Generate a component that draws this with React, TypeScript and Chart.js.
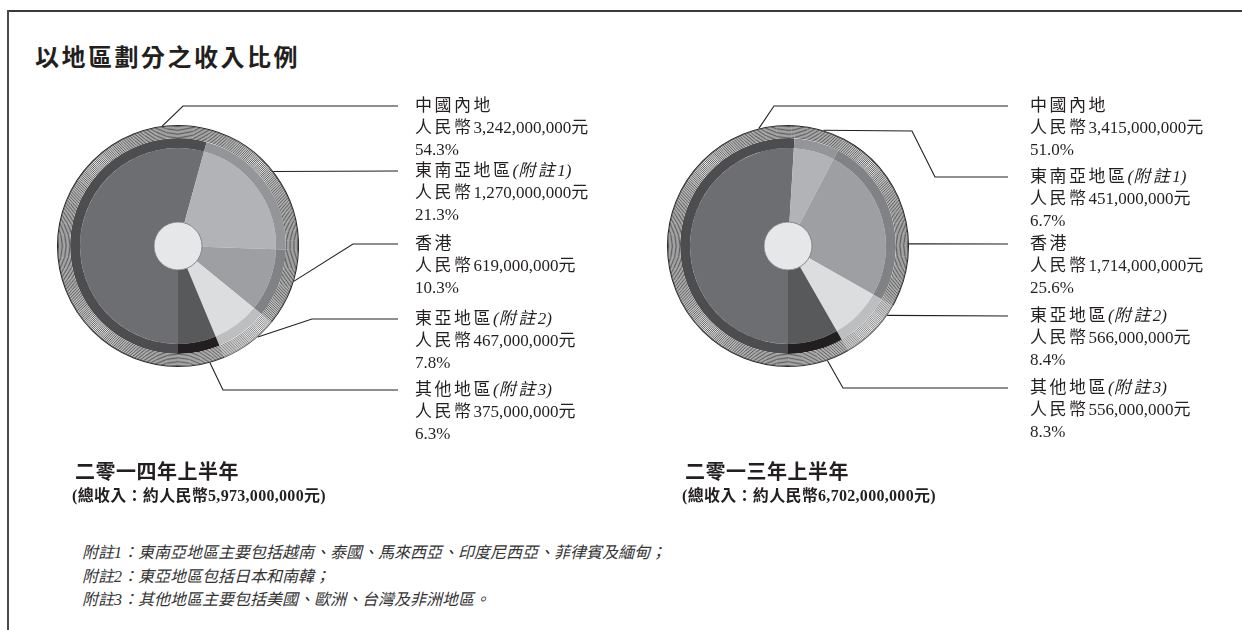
import React, { useEffect, useRef } from 'react';
import { Chart, registerables } from 'chart.js';

Chart.register(...registerables);

// ---------- data ----------
const chartTitle = '以地區劃分之收入比例';
const regions = ['中國內地', '東南亞地區', '香港', '東亞地區', '其他地區'];
const regionNotes = ['', '(附註1)', '', '(附註2)', '(附註3)'];
const revenue2014 = [3242, 1270, 619, 467, 375]; // RMB million
const revenue2013 = [3415, 451, 1714, 566, 556]; // RMB million
const share2014 = [54.3, 21.3, 10.3, 7.8, 6.3];
const share2013 = [51.0, 6.7, 25.6, 8.4, 8.3];
const periodTitles = ['二零一四年上半年', '二零一三年上半年'];
const periodTotals = [5973, 6702]; // RMB million
const footnotes = [
  '附註1：東南亞地區主要包括越南、泰國、馬來西亞、印度尼西亞、菲律賓及緬甸；',
  '附註2：東亞地區包括日本和南韓；',
  '附註3：其他地區主要包括美國、歐洲、台灣及非洲地區。',
];

// ---------- styles ----------
const innerColors = ['#6d6e71', '#b1b3b6', '#9d9fa2', '#dcdddf', '#58595b'];
const bandColors = ['#4d4d4f', '#939598', '#808285', '#bcbec0', '#231f20'];
const hatchColors = ['#2a2a2a', '#2a2a2a', '#2a2a2a', '#606060', '#333333'];
const TEXT = '#231f20';
const FONT = '"Liberation Serif", "Noto Sans CJK TC", serif';

type Leader = { angle: number; pts: [number, number][]; y: number };
const leadersLeft: Leader[] = [
  { angle: 352.5, pts: [[5, -140]], y: -140 },
  { angle: 52, pts: [], y: -75 },
  { angle: 107, pts: [[175, -2]], y: -2 },
  { angle: 138.7, pts: [[134, 73]], y: 73 },
  { angle: 164.7, pts: [[45, 144]], y: 144 },
];
const leadersRight: Leader[] = [
  { angle: 346, pts: [[-14, -140]], y: -140 },
  { angle: 17, pts: [[124, -115], [147, -69]], y: -69 },
  { angle: 89, pts: [], y: -2 },
  { angle: 125, pts: [], y: 70 },
  { angle: 161, pts: [[55, 142]], y: 142 },
];

const fmt = (m: number) => (m * 1000000).toLocaleString('en-US');

const CJK = /[\u2E80-\u9FFF\uFF00-\uFFEF\u3000-\u303F]/;
const SEG = /[\u2E80-\u9FFF\uFF00-\uFFEF\u3000-\u303F]+|[^\u2E80-\u9FFF\uFF00-\uFFEF\u3000-\u303F]+/g;

function drawRich(
  ctx: CanvasRenderingContext2D,
  runs: { t: string; italic?: boolean }[],
  x: number,
  y: number,
  size: number,
) {
  let cx = x;
  ctx.textBaseline = 'middle';
  ctx.textAlign = 'left';
  ctx.fillStyle = TEXT;
  for (const r of runs) {
    const segs = r.t.match(SEG) || [];
    for (const s of segs) {
      const cjk = CJK.test(s);
      ctx.font = `${r.italic ? 'italic ' : ''}normal ${size}px ${FONT}`;
      (ctx as any).letterSpacing = cjk ? '2.5px' : '0px';
      ctx.fillText(s, cx, y);
      cx += ctx.measureText(s).width;
    }
  }
  (ctx as any).letterSpacing = '0px';
}

type PieProps = {
  values: number[];
  shares: number[];
  leaders: Leader[];
  width: number;
  height: number;
  cx: number;
  cy: number;
  textDx: number;
  left: number;
  top: number;
};

const R = 121;

function Pie({ values, shares, leaders, width, height, cx, cy, textDx, left, top }: PieProps) {
  const ref = useRef<HTMLCanvasElement | null>(null);
  useEffect(() => {
    const canvas = ref.current;
    if (!canvas) return;
    const decor = {
      id: 'decor',
      afterDatasetsDraw(chart: any) {
        const ctx: CanvasRenderingContext2D = chart.ctx;
        const meta = chart.getDatasetMeta(0);
        let ox = 0, oy = 0, outer = R;
        ctx.save();
        // hatched outer ring
        meta.data.forEach((arc: any, i: number) => {
          const p = arc.getProps(['x', 'y', 'startAngle', 'endAngle', 'innerRadius', 'outerRadius']);
          ox = p.x; oy = p.y; outer = p.outerRadius;
          ctx.strokeStyle = hatchColors[i];
          for (let r = p.innerRadius + 0.7; r < p.outerRadius - 0.6; r += 1.35) {
            ctx.lineWidth = 0.75;
            ctx.beginPath();
            ctx.arc(p.x, p.y, r, p.startAngle, p.endAngle);
            ctx.stroke();
          }
          ctx.lineWidth = 1.1;
          ctx.beginPath();
          ctx.arc(p.x, p.y, p.outerRadius - 0.5, p.startAngle, p.endAngle);
          ctx.stroke();
        });
        // hub
        const innerMeta = chart.getDatasetMeta(2);
        const hubR = innerMeta.data[0].getProps(['innerRadius']).innerRadius;
        ctx.beginPath();
        ctx.arc(ox, oy, hubR, 0, Math.PI * 2);
        ctx.fillStyle = '#e6e7e8';
        ctx.fill();
        ctx.lineWidth = 0.8;
        ctx.strokeStyle = '#6d6e71';
        ctx.stroke();
        // leaders
        ctx.strokeStyle = TEXT;
        ctx.lineWidth = 1.1;
        leaders.forEach((ld) => {
          const a = (ld.angle * Math.PI) / 180;
          const ax = ox + outer * Math.sin(a);
          const ay = oy - outer * Math.cos(a);
          ctx.beginPath();
          ctx.moveTo(ax, ay);
          ld.pts.forEach(([dx, dy]) => ctx.lineTo(ox + dx, oy + dy));
          ctx.lineTo(ox + 220, oy + ld.y);
          ctx.stroke();
        });
        // labels
        leaders.forEach((ld, i) => {
          const tx = ox + textDx;
          const ty = oy + ld.y + 1;
          const name = [{ t: regions[i] }];
          if (regionNotes[i]) name.push({ t: regionNotes[i], italic: true } as any);
          drawRich(ctx, name, tx, ty, 17);
          drawRich(ctx, [{ t: '人民幣' + fmt(values[i]) + '元' }], tx, ty + 22, 17);
          drawRich(ctx, [{ t: shares[i].toFixed(1) + '%' }], tx, ty + 44, 17);
        });
        ctx.restore();
      },
    };
    const chart = new Chart(canvas, {
      type: 'doughnut',
      data: {
        labels: regions,
        datasets: [
          { data: values, backgroundColor: '#ffffff', borderWidth: 0, weight: 13 } as any,
          { data: values, backgroundColor: bandColors, borderWidth: 0, weight: 10 } as any,
          { data: values, backgroundColor: innerColors, borderWidth: 0, weight: 74 } as any,
        ],
      },
      options: {
        responsive: false,
        animation: false,
        rotation: 180,
        cutout: 24,
        radius: R,
        events: [],
        layout: {
          padding: { left: cx - R, right: width - cx - R, top: cy - R, bottom: height - cy - R },
        },
        plugins: { legend: { display: false }, tooltip: { enabled: false }, title: { display: false } },
      } as any,
      plugins: [decor],
    });
    return () => chart.destroy();
  }, []);
  return (
    <canvas
      ref={ref}
      width={width}
      height={height}
      style={{ position: 'absolute', left, top, width, height }}
    />
  );
}

const textStyle = (x: number, cy: number, size: number, extra: React.CSSProperties = {}): React.CSSProperties => ({
  position: 'absolute',
  left: x,
  top: cy - size * 0.75,
  lineHeight: `${size * 1.5}px`,
  fontSize: size,
  fontFamily: FONT,
  color: TEXT,
  whiteSpace: 'nowrap',
  ...extra,
});

export default function App() {
  return (
    <div style={{ position: 'absolute', left: 0, top: 0, width: 1242, height: 630, background: '#fff', overflow: 'hidden' }}>
      <div style={{ position: 'absolute', left: 8, top: 10, width: 1234, height: 2, background: '#3a3a3a' }} />
      <div style={{ position: 'absolute', left: 7, top: 10, width: 2, height: 620, background: '#4a4a4a' }} />
      <div style={textStyle(35, 58, 24, { fontWeight: 700, letterSpacing: '2.5px' })}>{chartTitle}</div>

      <Pie values={revenue2014} shares={share2014} leaders={leadersLeft} width={620} height={380} cx={178} cy={166} textDx={237} left={0} top={80} />
      <Pie values={revenue2013} shares={share2013} leaders={leadersRight} width={622} height={380} cx={168} cy={166} textDx={242} left={620} top={80} />

      <div style={textStyle(75, 472, 20, { fontWeight: 700, letterSpacing: '0.5px' })}>{periodTitles[0]}</div>
      <div style={textStyle(72, 496, 16, { fontWeight: 700, letterSpacing: '0.3px' })}>{'(總收入：約人民幣' + fmt(periodTotals[0]) + '元)'}</div>
      <div style={textStyle(685, 472, 20, { fontWeight: 700, letterSpacing: '0.5px' })}>{periodTitles[1]}</div>
      <div style={textStyle(682, 496, 16, { fontWeight: 700, letterSpacing: '0.3px' })}>{'(總收入：約人民幣' + fmt(periodTotals[1]) + '元)'}</div>

      {footnotes.map((f, i) => (
        <div key={i} style={textStyle(82, 553 + i * 23.5, 16, { fontStyle: 'italic', color: '#333' })}>{f}</div>
      ))}
    </div>
  );
}
